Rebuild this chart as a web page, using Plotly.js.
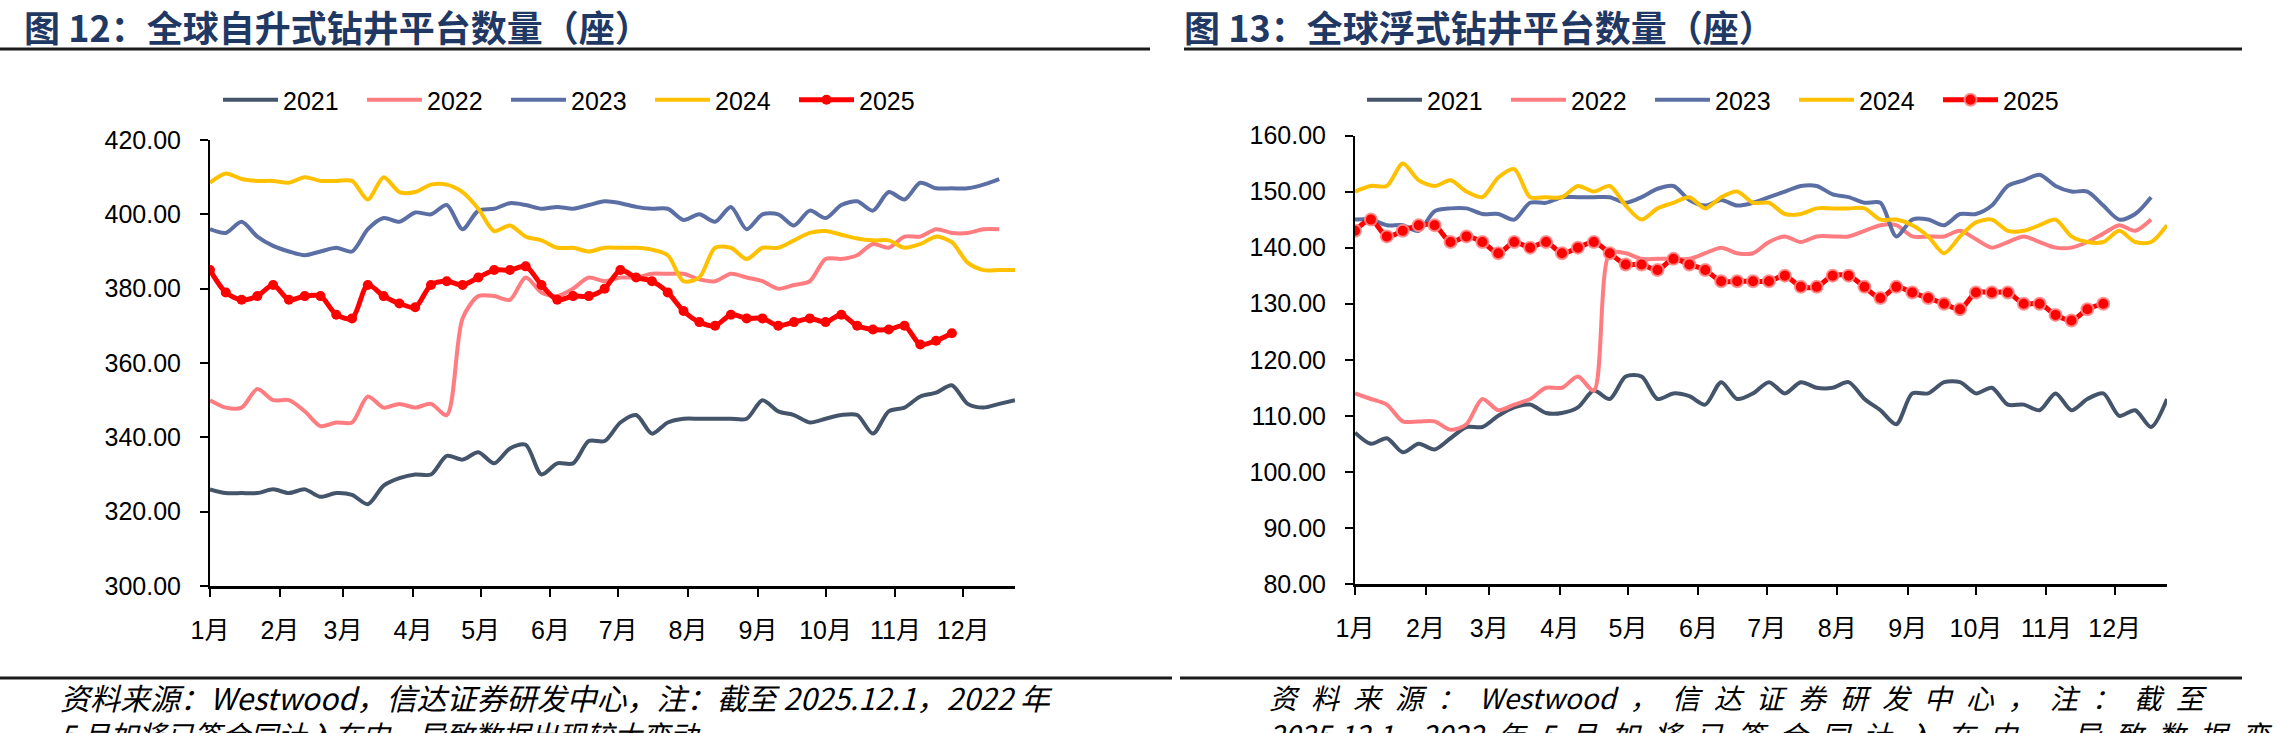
<!DOCTYPE html>
<html>
<head>
<meta charset="utf-8">
<script src="https://cdn.plot.ly/plotly-3.0.1.min.js"></script>
<style>
  html, body { margin: 0; padding: 0; background: #fff; overflow: hidden; }
  #chart { width: 2280px; height: 733px; }
</style>
</head>
<body>
<div id="chart"></div>
<script>
(function() {
  'use strict';

  var W = 2280, H = 733;

  // month ticks, axis runs over 51 weeks (day 0 .. 357)
  var monthDays = [0, 31, 59, 90, 120, 151, 181, 212, 243, 273, 304, 334];
  var monthLabels = ['1月', '2月', '3月', '4月', '5月', '6月', '7月', '8月', '9月', '10月', '11月', '12月'];
  var years = ['2021', '2022', '2023', '2024', '2025'];
  var colors = ['#44546A', '#FF7C80', '#5B6FA5', '#FFC000', '#FF0000'];

  // 图12 自升式 (weekly)
  var jack2021 = [326, 325, 325, 325, 326, 325, 326, 324, 325, 324.5, 322, 327, 329, 330, 330, 335, 334, 336, 333, 337,
    338, 330, 333, 333, 339, 339, 344, 346, 341, 344, 345, 345, 345, 345, 345, 350, 347, 346, 344, 345,
    346, 346, 341, 347, 348, 351, 352, 354, 349, 348, 349, 350];
  var jack2022 = [350, 348, 348, 353, 350, 350, 347, 343, 344, 344, 351, 348, 349, 348, 349, 346, 372, 378, 378, 377,
    383, 379, 378, 380, 383, 382, 383, 383, 384, 384, 384, 382.5, 382, 384, 383, 382, 380, 381, 382, 388,
    388, 389, 392, 391, 394, 394, 396, 395, 395, 396, 396];
  var jack2023 = [396, 395, 398, 394, 391.5, 390, 389, 390, 391, 390, 396, 399, 398, 400.5, 400, 402.5, 396, 401, 401.5, 403,
    402.5, 401.5, 402, 401.5, 402.5, 403.5, 403, 402, 401.5, 401.5, 398.5, 400, 398, 402, 396, 400, 400, 397, 401, 399,
    402.5, 403.5, 401, 406, 404, 408.5, 407, 407, 407, 408, 409.5];
  var jack2024 = [408.5, 411, 409.5, 409, 409, 408.5, 410, 409, 409, 409, 404, 410, 406, 406, 408, 408, 406, 401.5, 395.5, 397,
    394, 393, 391, 391, 390, 391, 391, 391, 390.5, 389, 382, 383, 391, 391, 388, 391, 391, 393, 395, 395.5,
    394.5, 393.5, 393, 393, 391, 392, 394, 392.5, 387, 385, 385, 385];
  var jack2025 = [385, 379, 377, 378, 381, 377, 378, 378, 373, 372, 381, 378, 376, 375, 381, 382, 381, 383, 385, 385,
    386, 381, 377, 378, 378, 380, 385, 383, 382, 379, 374, 371, 370, 373, 372, 372, 370, 371, 372, 371,
    373, 370, 369, 369, 370, 365, 366, 368];

  // 图13 浮式 (weekly)
  var float2021 = [107, 105, 106, 103.5, 105, 104, 106, 108, 108, 110, 111.5, 112, 110.5, 110.5, 111.5, 114.5, 113, 117, 117, 113,
    114, 113.5, 112, 116, 113, 114, 116, 114, 116, 115, 115, 116, 113, 111, 108.5, 114, 114, 116, 116, 114,
    115, 112, 112, 111, 114, 111, 113, 114, 110, 111, 108, 113];
  var float2022 = [114, 113, 112, 109, 109, 109, 107.5, 108.5, 113, 111, 112, 113, 115, 115, 117, 114.5, 139, 139, 138, 138,
    138, 138, 139, 140, 139, 139, 141, 142, 141, 142, 142, 142, 143, 144, 144, 142, 142, 142, 143, 141.5,
    140, 141, 142, 141, 140, 140, 141, 142.5, 144, 143, 145];
  var float2023 = [145, 145, 144, 144, 143, 146.5, 147, 147, 146, 146, 145, 148, 148, 149, 149, 149, 149, 148, 149, 150.5,
    151, 148.5, 147.5, 148.5, 147.5, 148, 149, 150, 151, 151, 149.5, 149, 148, 148, 142, 145, 145, 144, 146, 146,
    147.5, 151, 152, 153, 151, 150, 150, 147.5, 145, 146, 149];
  var float2024 = [150, 151, 151, 155, 152, 151, 152, 150, 149, 152.5, 154, 149, 149, 149, 151, 150, 151, 147.5, 145, 147,
    148, 149, 147, 149, 150, 148, 148, 146, 146, 147, 147, 147, 147, 145, 145, 144, 142, 139, 142, 144.5,
    145, 143, 143, 144, 145, 142, 141, 141, 143, 141, 141, 144];
  var float2025 = [143, 145, 142, 143, 144, 144, 141, 142, 141, 139, 141, 140, 141, 139, 140, 141, 139, 137, 137, 136,
    138, 137, 136, 134, 134, 134, 134, 135, 133, 133, 135, 135, 133, 131, 133, 132, 131, 130, 129, 132,
    132, 132, 130, 130, 128, 127, 129, 130];

  var FONT = 'Liberation Sans, Arial, Noto Sans CJK SC, sans-serif';
  var CJK = 'Noto Sans CJK SC, sans-serif';

  function px(x) { return x / W; }
  function py(y) { return 1 - y / H; }

  function weekX(vals) {
    return vals.map(function(v, i) { return i * 7; });
  }

  function makeTraces(series, xa, ya, legendKey, glow) {
    return series.map(function(vals, i) {
      var t = {
        x: weekX(vals), y: vals,
        type: 'scatter', mode: 'lines',
        name: years[i], xaxis: xa, yaxis: ya, legend: legendKey,
        line: { color: colors[i], width: 4, shape: 'spline', smoothing: 0.8 },
        hoverinfo: 'skip'
      };
      if (i === 4) {
        t.mode = 'lines+markers';
        t.line.width = 5;
        t.marker = glow
          ? { color: '#FF0000', size: 12, line: { color: 'rgba(255,140,140,0.9)', width: 2 } }
          : { color: '#FF0000', size: 10 };
      }
      return t;
    });
  }

  function xAxis(domain, anchor) {
    return {
      domain: domain, anchor: anchor,
      range: [0, 357], tickmode: 'array', tickvals: monthDays, ticktext: monthLabels,
      showgrid: false, zeroline: false,
      showline: true, linecolor: '#000', linewidth: 3,
      ticks: 'outside', ticklen: 8, tickwidth: 2, tickcolor: '#000',
      ticklabelstandoff: 12,
      tickfont: { family: FONT, size: 25, color: '#000' }
    };
  }

  function yAxis(domain, anchor, range, dtick) {
    return {
      domain: domain, anchor: anchor,
      range: range, dtick: dtick, tick0: range[0], tickformat: '.2f',
      showgrid: false, zeroline: false,
      showline: true, linecolor: '#000', linewidth: 2,
      ticks: 'outside', ticklen: 8, tickwidth: 2, tickcolor: '#000',
      ticklabelstandoff: 14,
      tickfont: { family: FONT, size: 25, color: '#000' }
    };
  }

  function legendBox(x) {
    return {
      orientation: 'h', x: px(x), y: py(100), xanchor: 'left', yanchor: 'middle',
      font: { family: FONT, size: 25, color: '#000' },
      itemwidth: 55, bgcolor: 'rgba(0,0,0,0)', traceorder: 'normal',
      entrywidth: 74, entrywidthmode: 'pixels'
    };
  }

  function rule(x0, x1, y, w) {
    return {
      type: 'line', xref: 'paper', yref: 'paper',
      x0: px(x0), x1: px(x1), y0: py(y), y1: py(y),
      line: { color: '#1a1a1a', width: w }
    };
  }

  function note(text, x, y, size, opts) {
    var a = {
      xref: 'paper', yref: 'paper', x: px(x), y: py(y),
      xanchor: 'left', yanchor: 'middle', showarrow: false,
      text: text,
      font: { family: CJK, size: size, color: '#000' }
    };
    for (var k in opts) a[k] = opts[k];
    return a;
  }

  var sp = '\u2002';
  var data = []
    .concat(makeTraces([jack2021, jack2022, jack2023, jack2024, jack2025], 'x', 'y', 'legend', false))
    .concat(makeTraces([float2021, float2022, float2023, float2024, float2025], 'x2', 'y2', 'legend2', true));

  var layout = {
    width: W, height: H,
    paper_bgcolor: '#fff', plot_bgcolor: '#fff',
    margin: { l: 0, r: 0, t: 0, b: 0 },
    font: { family: FONT, color: '#000' },
    showlegend: true,
    xaxis: xAxis([px(210), px(1015)], 'y'),
    yaxis: yAxis([py(586), py(140)], 'x', [300, 420], 20),
    xaxis2: xAxis([px(1355), px(2167)], 'y2'),
    yaxis2: yAxis([py(584), py(135.5)], 'x2', [80, 160], 10),
    legend: legendBox(218),
    legend2: legendBox(1362),
    shapes: [
      rule(0, 1150, 49, 3),
      rule(1184, 2242, 49, 3),
      rule(0, 1172, 678, 3),
      rule(1180, 2242, 678, 3)
    ],
    annotations: [
      note('<b>图 12：全球自升式钻井平台数量（座）</b>', 22, 26, 36, { font: { family: CJK, size: 36, color: '#1F3864' } }),
      note('<b>图 13：全球浮式钻井平台数量（座）</b>', 1182, 26, 36, { font: { family: CJK, size: 36, color: '#1F3864' } }),
      note('<i>资料来源：Westwood，信达证券研发中心，注：截至 2025.12.1，2022 年</i>', 58, 697, 30),
      note('<i>5 月如将已签合同计入在内，导致数据出现较大变动</i>', 58, 734, 28),
      note('<i>资' + sp + '料' + sp + '来' + sp + '源' + sp + '：' + sp + 'Westwood' + sp + '，' + sp + '信' + sp + '达' + sp +
        '证' + sp + '券' + sp + '研' + sp + '发' + sp + '中' + sp + '心' + sp + '，' + sp + '注' + sp + '：' + sp + '截' + sp + '至</i>',
        1267, 697, 28),
      note('<i>2025.12.1，2022' + sp + '年' + sp + '5' + sp + '月' + sp + '如' + sp + '将' + sp + '已' + sp + '签' + sp + '合' + sp +
        '同' + sp + '计' + sp + '入' + sp + '在' + sp + '内' + sp + '，' + sp + '导' + sp + '致' + sp + '数' + sp + '据' + sp + '变' + sp + '动</i>',
        1267, 734, 28)
    ]
  };

  Plotly.newPlot('chart', data, layout, { staticPlot: true, displayModeBar: false });
})();
</script>
</body>
</html>
